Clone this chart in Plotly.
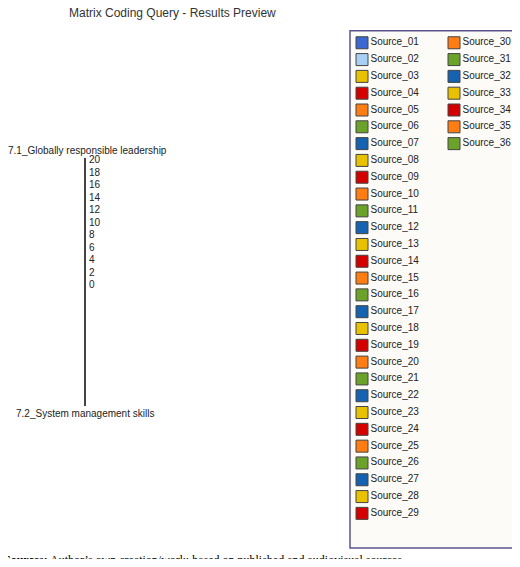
import plotly.graph_objects as go

title = 'Matrix Coding Query - Results Preview'
row_labels = ['7.1_Globally responsible leadership', '7.2_System management skills']
tick_vals = [0, 2, 4, 6, 8, 10, 12, 14, 16, 18, 20]
sources = ['Source_%02d' % i for i in range(1, 37)]
palette = ['#3b68d0', '#a8d0f4', '#e8c200', '#d40000', '#ff7d12', '#6ba32a', '#1462b0']
cycle = ['#e8c200', '#d40000', '#ff7d12', '#6ba32a', '#1462b0']
source_colors = palette + [cycle[i % 5] for i in range(len(sources) - len(palette))]
footer = '<b>Sources:</b> Author’s own creation/work; based on published and audiovisual sources'

# page body adds an 8px margin, so the figure is drawn 8px smaller and shifted
OFF = 8
W, H = 520 - 2 * OFF, 567 - 2 * OFF


def px(v):
    return v - OFF


fig = go.Figure()

# empty matrix axis (no coded values)
fig.add_trace(go.Scatter(x=[0], y=[0], mode='markers', marker=dict(opacity=0),
                         hoverinfo='skip', showlegend=False, xaxis='x', yaxis='y'))

# legend panel drawn on a pixel-scaled overlay
per_col = 29
lx, ly = [], []
for i, s in enumerate(sources):
    col, row = divmod(i, per_col)
    lx.append(px(362 + col * 92))
    ly.append(px(39 + row * 16.93))
fig.add_trace(go.Scatter(
    x=lx, y=ly, mode='markers+text', text=sources, textposition='middle right',
    textfont=dict(size=10, color='#222', family='Liberation Sans'),
    marker=dict(symbol='square', size=12, color=source_colors,
                line=dict(color='#444', width=1)),
    hoverinfo='text', showlegend=False, xaxis='x2', yaxis='y2'))

fig.update_layout(
    width=W, height=H, margin=dict(l=0, r=0, t=0, b=0),
    paper_bgcolor='white', plot_bgcolor='rgba(0,0,0,0)',
    font=dict(family='Liberation Sans', color='#222'),
    xaxis=dict(domain=[0, px(84) / W], range=[-1, 0], visible=False, fixedrange=True),
    yaxis=dict(domain=[1 - px(405) / H, 1 - px(155) / H], range=[-19.4, 20.3], side='right',
               tickvals=tick_vals, ticks='', showgrid=False, zeroline=False,
               showline=True, linecolor='#444', linewidth=2, ticklabelstandoff=1,
               tickfont=dict(size=10, color='#222')),
    xaxis2=dict(domain=[0, 1], range=[0, W], visible=False, anchor='y2'),
    yaxis2=dict(domain=[0, 1], range=[H, 0], visible=False, anchor='x2'),
    shapes=[dict(type='rect', xref='x2', yref='y2', x0=px(350), x1=px(515), y0=px(27), y1=px(548),
                 line=dict(color='#5b5490', width=1.5), fillcolor='#fdfbf7', layer='below')],
    annotations=[
        dict(text=title, xref='paper', yref='paper', x=px(172) / W, y=1 - px(9) / H,
             xanchor='center', yanchor='middle', showarrow=False, font=dict(size=12, color='#333')),
        dict(text=row_labels[0], xref='paper', yref='paper', x=px(87) / W, y=1 - px(148) / H,
             xanchor='center', yanchor='middle', showarrow=False, font=dict(size=10)),
        dict(text=row_labels[1], xref='paper', yref='paper', x=px(85) / W, y=1 - px(412) / H,
             xanchor='center', yanchor='middle', showarrow=False, font=dict(size=10)),
        dict(text=footer, xref='paper', yref='paper', x=px(2) / W, y=1 - px(560) / H,
             xanchor='left', yanchor='middle', showarrow=False,
             font=dict(size=12, family='Liberation Serif', color='#000')),
    ],
)

fig.write_html('out.html')
